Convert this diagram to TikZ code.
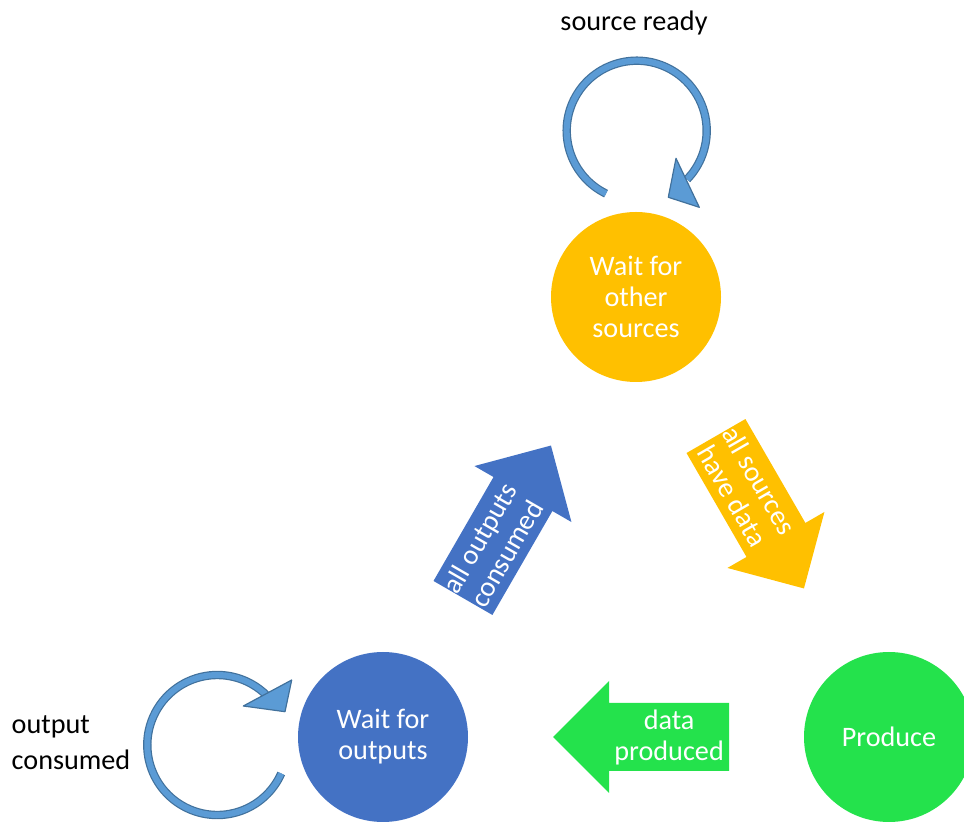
\documentclass[tikz,border=0pt]{standalone}
\usepackage{fontspec}
\setmainfont{Carlito}
\usetikzlibrary{calc}

\definecolor{srcyellow}{RGB}{255,192,0}
\definecolor{outblue}{RGB}{68,114,196}
\definecolor{prodgreen}{RGB}{36,226,76}
\definecolor{loopfill}{RGB}{91,155,213}
\definecolor{loopline}{RGB}{65,113,156}

\begin{document}
\begin{tikzpicture}[x=1pt, y=1pt,
  state/.style = {circle, minimum size=170pt, inner sep=0pt, align=center,
    text=white, font=\fontsize{28.2}{31}\selectfont},
  caption/.style = {inner sep=0pt, align=left, font=\fontsize{28.2}{36}\selectfont},
  blocktext/.style = {inner sep=0pt, align=center, text=white,
    font=\fontsize{28.2}{31}\selectfont},
  loopband/.style = {draw=loopline, double=loopfill, double distance=6pt, line width=1.2pt},
  loophead/.style = {fill=loopfill, draw=loopline, line width=1.2pt, line join=round}]
\useasboundingbox (0,0) rectangle (964,822);

% the three states
\path (636,525) node[state, fill=srcyellow] (W) {Wait for\\other\\sources};
\path (383,85) node[state, fill=outblue] (O) {Wait for\\outputs};
\path (889,85) node[state, fill=prodgreen] (P) {Produce};

% self loops
\coordinate (LW) at (636.7,691.3);
\draw[loopband] ($(LW)+(244:70)$) arc[start angle=244, end angle=-44, radius=70];
\draw[loophead] ($(LW)+(39.3,-27.6)$) -- ($(LW)+(31.6,-66.6)$) -- ($(LW)+(62.6,-76.6)$) -- cycle;
\path (634,799) node[caption] (sr) {source ready};

\coordinate (LO) at (217.3,77);
\draw[loopband] ($(LO)+(-24:70)$) arc[start angle=-24, end angle=-314, radius=70];
\draw[loophead] ($(LO)+(74.4,65)$) -- ($(LO)+(67.7,33.3)$) -- ($(LO)+(26,39)$) -- cycle;
\path (11.5,79) node[caption, anchor=west] (oc) {output\\consumed};

% block arrows between the states
\coordinate (t1) at ($(W)!0.316!(P)$);
\begin{scope}[shift={(t1)}, rotate=-60]
\fill[srcyellow] (0,-34) -- (120,-34) -- (120,-56) -- (176,0) -- (120,56) -- (120,34) -- (0,34) -- cycle;
\path (60,0) node[blocktext, rotate=-60] (a1) {all sources\\have data};
\end{scope}

\coordinate (t2) at ($(P)!0.316!(O)$);
\begin{scope}[shift={(t2)}, rotate=180]
\fill[prodgreen] (0,-34) -- (120,-34) -- (120,-56) -- (176,0) -- (120,56) -- (120,34) -- (0,34) -- cycle;
\path (60,0) node[blocktext] (a2) {data\\produced};
\end{scope}

\coordinate (t3) at ($(O)!0.316!(W)$);
\begin{scope}[shift={(t3)}, rotate=60]
\fill[outblue] (0,-34) -- (120,-34) -- (120,-56) -- (176,0) -- (120,56) -- (120,34) -- (0,34) -- cycle;
\path (60,0) node[blocktext, rotate=60] (a3) {all outputs\\consumed};
\end{scope}
\end{tikzpicture}
\end{document}
